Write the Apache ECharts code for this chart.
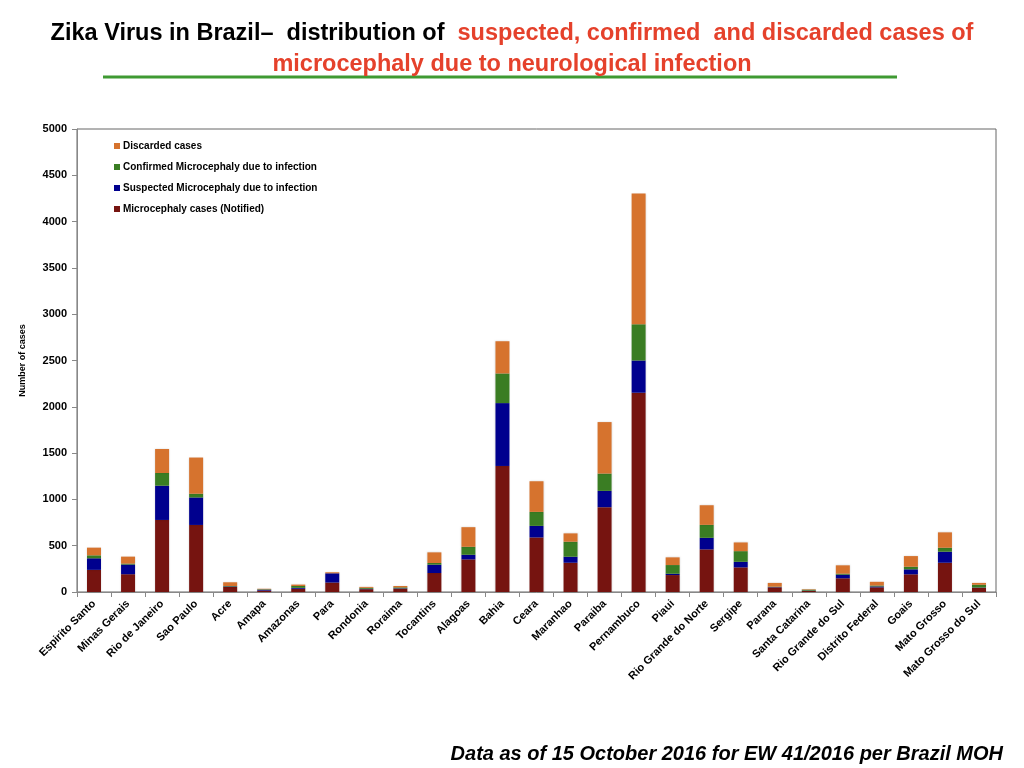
<!DOCTYPE html>
<html>
<head>
<meta charset="utf-8">
<script src="https://cdn.jsdelivr.net/npm/echarts@6/dist/echarts.min.js"></script>
<style>
html,body{margin:0;padding:0;background:#fff;}
#chart{width:1024px;height:768px;}
</style>
</head>
<body>
<div id="chart"></div>
<script>
var categories = ['Espirito Santo','Minas Gerais','Rio de Janeiro','Sao Paulo','Acre','Amapa','Amazonas','Para','Rondonia','Roraima','Tocantins','Alagoas','Bahia','Ceara','Maranhao','Paraiba','Pernambuco','Piaui','Rio Grande do Norte','Sergipe','Parana','Santa Catarina','Rio Grande do Sul','Distrito Federal','Goais','Mato Grosso','Mato Grosso do Sul'];
var notified   = [239,192,778,724,55,15,35,102,30,35,205,352,1361,589,316,916,2152,183,460,266,50,12,148,50,191,316,45];
var suspected  = [125,104,370,297,5,10,10,100,5,5,90,50,679,125,65,176,348,14,125,60,3,3,39,10,54,119,3];
var confirmed  = [32,11,137,40,5,5,20,0,10,10,18,86,320,151,162,187,391,94,140,115,5,10,11,10,28,43,30];
var discarded  = [83,75,259,391,40,5,15,11,10,15,115,212,348,331,90,556,1412,83,212,94,40,5,90,40,115,166,20];
var yTicks = {min:0, max:5000, interval:500};

var chart = echarts.init(document.getElementById('chart'));
var font = 'Liberation Sans, Arial, Helvetica, sans-serif';
var narrow = '"Liberation Sans Narrow", "Arial Narrow", "Liberation Sans", Arial, sans-serif';
function bar(name, data, color){
  return {name:name, type:'bar', stack:'total', data:data, barWidth:14,
    itemStyle:{color:color, shadowBlur:2, shadowColor:'rgba(0,0,0,0.15)'}};
}
chart.setOption({
  animation:false,
  title:[{
    text:'{b|Zika Virus in Brazil\u2013  distribution of  }{r|suspected, confirmed  and discarded cases of}\n{r|microcephaly due to neurological infection}',
    left:'center', top:13,
    textStyle:{
      lineHeight:31,
      rich:{
        b:{fontFamily:narrow, fontWeight:'bold', fontSize:23.5, color:'#000', lineHeight:31},
        r:{fontFamily:narrow, fontWeight:'bold', fontSize:23.5, color:'#e5412b', lineHeight:31}
      }
    }
  },{
    text:'Data as of 15 October 2016 for EW 41/2016 per Brazil MOH',
    right:16, top:739,
    textStyle:{fontFamily:font, fontWeight:'bold', fontStyle:'italic', fontSize:20, color:'#000'}
  }],
  graphic:[{
    type:'line', shape:{x1:103, y1:77, x2:897, y2:77},
    style:{stroke:'#3f9a32', lineWidth:3}
  }],
  legend:{
    orient:'vertical', left:109, top:136, itemGap:11, itemWidth:6, itemHeight:6,
    icon:'rect',
    data:['Discarded cases','Confirmed Microcephaly due to infection','Suspected Microcephaly due to infection','Microcephaly cases (Notified)'],
    textStyle:{fontFamily:font, fontWeight:'bold', fontSize:10, color:'#000', padding:[0,0,0,-2]}
  },
  grid:{left:77, right:28, top:129, bottom:176, show:true, borderColor:'#666', borderWidth:1, backgroundColor:'transparent'},
  xAxis:{
    type:'category', data:categories,
    axisLine:{lineStyle:{color:'#888'}},
    axisTick:{show:true, length:5, lineStyle:{color:'#888'}},
    axisLabel:{interval:0, rotate:45, fontFamily:font, fontWeight:'bold', fontSize:11, color:'#000', margin:10}
  },
  yAxis:{
    type:'value', min:yTicks.min, max:yTicks.max, interval:yTicks.interval,
    name:'Number of cases', nameLocation:'middle', nameGap:50,
    nameTextStyle:{fontFamily:font, fontWeight:'bold', fontSize:9, color:'#000'},
    axisLine:{show:true, lineStyle:{color:'#888'}},
    axisTick:{show:true, length:5, lineStyle:{color:'#888'}},
    splitLine:{show:false},
    axisLabel:{fontFamily:font, fontWeight:'bold', fontSize:11, color:'#000', margin:10,
      formatter:function(v){return String(v);}}
  },
  series:[
    bar('Microcephaly cases (Notified)', notified, '#761410'),
    bar('Suspected Microcephaly due to infection', suspected, '#00008e'),
    bar('Confirmed Microcephaly due to infection', confirmed, '#3a7d23'),
    bar('Discarded cases', discarded, '#d6732e')
  ]
});
</script>
</body>
</html>
